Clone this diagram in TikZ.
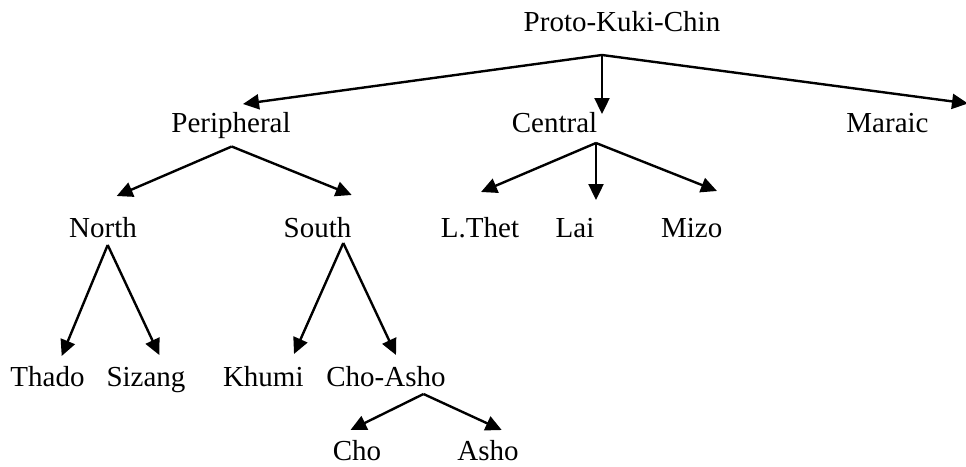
\documentclass[tikz,border=0pt]{standalone}
\usepackage{fontspec}
\setmainfont{Liberation Serif}
\usetikzlibrary{arrows.meta}
\begin{document}
\begin{tikzpicture}[x=1pt,y=-1pt,
  lbl/.style={anchor=base,inner sep=0pt,font=\fontsize{29}{34}\selectfont},
  conn/.style={line width=2.4pt,-{Triangle[length=16pt,width=15pt]}}]
\useasboundingbox (0,0) rectangle (966,466);
% labels
\node[lbl] (pkc) at (622,31) {Proto-Kuki-Chin};
\node[lbl] (per) at (231,132) {Peripheral};
\node[lbl] (cen) at (554.5,132) {Central};
\node[lbl] (mar) at (887.5,132) {Maraic};
\node[lbl] (nor) at (103,237) {North};
\node[lbl] (sou) at (317.5,237) {South};
\node[lbl] (lth) at (480,237) {L.Thet};
\node[lbl] (lai) at (575,237) {Lai};
\node[lbl] (miz) at (691.7,237) {Mizo};
\node[lbl] (tha) at (47.5,386) {Thado};
\node[lbl] (siz) at (146,386) {Sizang};
\node[lbl] (khu) at (263.3,386) {Khumi};
\node[lbl] (cha) at (386,386) {Cho-Asho};
\node[lbl] (cho) at (357,460.5) {Cho};
\node[lbl] (ash) at (488,460.5) {Asho};
% branch points
\coordinate (pkc-a) at (602,55);
\coordinate (per-a) at (231.7,146.5);
\coordinate (cen-a) at (596,143);
\coordinate (nor-a) at (107.7,245);
\coordinate (sou-a) at (343.3,243);
\coordinate (cha-a) at (423.5,394);
% arrow tips
\coordinate (per-t) at (243,104);
\coordinate (cen-t) at (602,114);
\coordinate (mar-t) at (968,103.5);
\coordinate (nor-t) at (116.7,196);
\coordinate (sou-t) at (351.7,195);
\coordinate (lth-t) at (481,192);
\coordinate (lai-t) at (596,200);
\coordinate (miz-t) at (717,191);
\coordinate (tha-t) at (61.7,356);
\coordinate (siz-t) at (159.3,355);
\coordinate (khu-t) at (294,354);
\coordinate (cha-t) at (396,355);
\coordinate (cho-t) at (350.5,430);
\coordinate (ash-t) at (501.7,430);
% connectors
\draw[conn] (pkc-a) -- (per-t);
\draw[conn] (pkc-a) -- (cen-t);
\draw[conn] (pkc-a) -- (mar-t);
\draw[conn] (per-a) -- (nor-t);
\draw[conn] (per-a) -- (sou-t);
\draw[conn] (cen-a) -- (lth-t);
\draw[conn] (cen-a) -- (lai-t);
\draw[conn] (cen-a) -- (miz-t);
\draw[conn] (nor-a) -- (tha-t);
\draw[conn] (nor-a) -- (siz-t);
\draw[conn] (sou-a) -- (khu-t);
\draw[conn] (sou-a) -- (cha-t);
\draw[conn] (cha-a) -- (cho-t);
\draw[conn] (cha-a) -- (ash-t);
\end{tikzpicture}
\end{document}
